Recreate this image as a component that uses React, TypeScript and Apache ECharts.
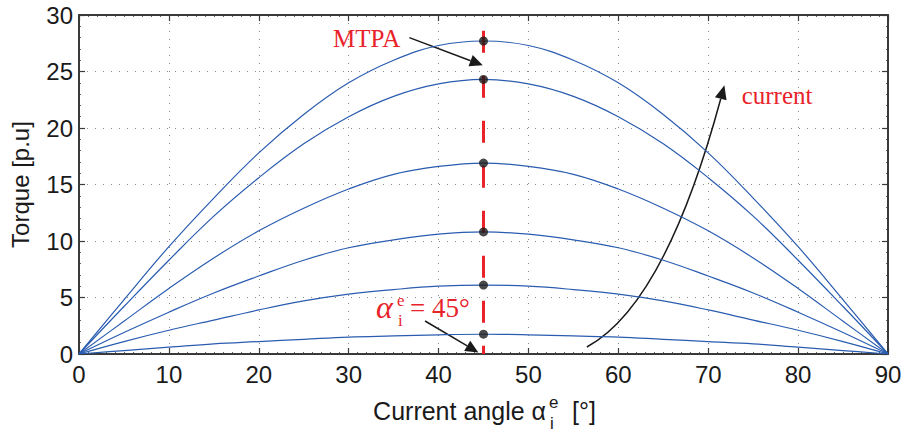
import React, { useEffect, useRef } from "react";
import * as echarts from "echarts";

// Current angle (degrees)
const angles = [0, 5, 10, 15, 20, 25, 30, 35, 40, 45, 50, 55, 60, 65, 70, 75, 80, 85, 90];
// Torque curves [p.u], highest current first
const torqueI6 = [0, 4.8, 9.5, 13.8, 17.8, 21.2, 24.0, 26.0, 27.3, 27.7, 27.3, 26.0, 24.0, 21.2, 17.8, 13.8, 9.5, 4.8, 0];
const torqueI5 = [0, 4.2, 8.3, 12.2, 15.6, 18.6, 21.0, 22.8, 23.9, 24.3, 23.9, 22.8, 21.0, 18.6, 15.6, 12.2, 8.3, 4.2, 0];
const torqueI4 = [0, 2.9, 5.8, 8.5, 10.9, 12.9, 14.6, 15.9, 16.6, 16.9, 16.6, 15.9, 14.6, 12.9, 10.9, 8.5, 5.8, 2.9, 0];
const torqueI3 = [0, 1.9, 3.7, 5.4, 6.9, 8.3, 9.4, 10.1, 10.6, 10.8, 10.6, 10.1, 9.4, 8.3, 6.9, 5.4, 3.7, 1.9, 0];
const torqueI2 = [0, 1.1, 2.1, 3.0, 3.9, 4.7, 5.3, 5.7, 6.0, 6.1, 6.0, 5.7, 5.3, 4.7, 3.9, 3.0, 2.1, 1.1, 0];
const torqueI1 = [0, 0.3, 0.6, 0.9, 1.1, 1.3, 1.5, 1.6, 1.7, 1.75, 1.7, 1.6, 1.5, 1.3, 1.1, 0.9, 0.6, 0.3, 0];
const curves = [torqueI6, torqueI5, torqueI4, torqueI3, torqueI2, torqueI1];

// MTPA
const mtpaAngle = 45;
const mtpaLineTop = 28.6;
const mtpaIndex = angles.indexOf(mtpaAngle);

// Axes
const xMin = 0, xMax = 90, xStep = 10;
const yMin = 0, yMax = 30, yStep = 5;

const BLUE = "#2a5cb0";
const RED = "#e8232a";
const INK = "#1a1a1a";
const AXIS = "#3a3a3a";
const SANS = '"Liberation Sans", Arial, sans-serif';
const SERIF = '"Liberation Serif", "Times New Roman", serif';

export default function App() {
  const ref = useRef<HTMLDivElement>(null);
  useEffect(() => {
    document.body.style.margin = "0";
    const chart = echarts.init(ref.current!, null, { renderer: "svg" });

    const axisCommon = {
      type: "value" as const,
      axisLine: { show: true, onZero: false, lineStyle: { color: AXIS, width: 2 } },
      axisTick: { show: true, inside: true, length: 6, lineStyle: { color: AXIS, width: 1.2 } },
      minorTick: { show: true, length: 2, lineStyle: { color: AXIS, width: 0.8 } },
    };
    const grid = {
      type: [1, 7],
      color: "#8a8a8a",
      width: 1,
    };

    const series: any[] = curves.map((c, i) => ({
      type: "line",
      name: "curve" + i,
      data: angles.map((a, k) => [a, c[k]]),
      smooth: 0.4,
      showSymbol: false,
      lineStyle: { color: BLUE, width: 1.2 },
      z: 2,
    }));
    series.push({
      type: "line",
      name: "MTPA line",
      data: [
        [mtpaAngle, mtpaLineTop],
        [mtpaAngle, 0],
      ],
      showSymbol: false,
      lineStyle: { color: RED, width: 3, type: [22, 23] },
      z: 3,
    });
    series.push({
      type: "scatter",
      name: "MTPA points",
      data: curves.map((c) => [mtpaAngle, c[mtpaIndex]]),
      symbolSize: 9,
      itemStyle: { color: INK },
      z: 4,
    });

    chart.setOption({
      animation: false,
      grid: { left: 79, right: 18, top: 15, bottom: 81, show: false },
      xAxis: [
        {
          ...axisCommon,
          position: "bottom",
          min: xMin,
          max: xMax,
          interval: xStep,
          minorTick: { ...axisCommon.minorTick, splitNumber: 10 },
          axisLabel: { fontSize: 24, fontFamily: SANS, color: INK, margin: 8 },
          splitLine: { show: true, lineStyle: grid },
        },
        {
          ...axisCommon,
          position: "top",
          min: xMin,
          max: xMax,
          interval: xStep,
          minorTick: { ...axisCommon.minorTick, splitNumber: 10 },
          axisLabel: { show: false },
          splitLine: { show: false },
        },
      ],
      yAxis: [
        {
          ...axisCommon,
          position: "left",
          min: yMin,
          max: yMax,
          interval: yStep,
          minorTick: { ...axisCommon.minorTick, splitNumber: 5 },
          axisLabel: { fontSize: 24, fontFamily: SANS, color: INK, margin: 6 },
          splitLine: { show: true, lineStyle: grid },
          name: "Torque [p.u]",
          nameLocation: "middle",
          nameGap: 47,
          nameTextStyle: { fontSize: 24, fontFamily: SANS, color: INK },
        },
        {
          ...axisCommon,
          position: "right",
          min: yMin,
          max: yMax,
          interval: yStep,
          minorTick: { ...axisCommon.minorTick, splitNumber: 5 },
          axisLabel: { show: false },
          splitLine: { show: false },
        },
      ],
      series,
    });

    const px = (x: number, y: number) =>
      chart.convertToPixel({ xAxisIndex: 0, yAxisIndex: 0 }, [x, y]) as number[];

    const head = (tip: number[], from: number[], len = 13, hw = 6) => {
      const dx = tip[0] - from[0];
      const dy = tip[1] - from[1];
      const d = Math.hypot(dx, dy) || 1;
      const ux = dx / d, uy = dy / d;
      const bx = tip[0] - ux * len, by = tip[1] - uy * len;
      return {
        base: [bx, by],
        points: [
          [tip[0], tip[1]],
          [bx - uy * hw, by + ux * hw],
          [bx + uy * hw, by - ux * hw],
        ],
      };
    };

    // MTPA arrow
    const mA = px(36.75, 28.0);
    const mB = px(44.92, 25.55);
    const mH = head(mB, mA);
    // alpha arrow
    const aA = px(38.5, 2.92);
    const aB = px(44.43, 0.13);
    const aH = head(aB, aA);
    // current arrow (curved)
    const cS = px(56.5, 0.62);
    const cC = px(65.2, 4.38);
    const cT = px(71.8, 23.78);
    const cH = head(cT, cC, 14, 6);

    const mtpaText = px(32.0, 27.9);
    const curText = px(77.66, 22.9);
    const alphaPos = px(33.05, 4.04);

    const graphic: any[] = [
      {
        type: "text",
        x: mtpaText[0],
        y: mtpaText[1],
        silent: true,
        style: { text: "MTPA", fill: RED, fontSize: 25, fontFamily: SERIF, align: "center", verticalAlign: "middle" },
      },
      { type: "line", silent: true, shape: { x1: mA[0], y1: mA[1], x2: mH.base[0], y2: mH.base[1] }, style: { stroke: INK, lineWidth: 1.5 } },
      { type: "polygon", silent: true, shape: { points: mH.points }, style: { fill: INK } },
      {
        type: "text",
        x: curText[0],
        y: curText[1],
        silent: true,
        style: { text: "current", fill: RED, fontSize: 25, fontFamily: SERIF, align: "center", verticalAlign: "middle" },
      },
      {
        type: "bezierCurve",
        silent: true,
        shape: { x1: cS[0], y1: cS[1], cpx1: cC[0], cpy1: cC[1], x2: cH.base[0], y2: cH.base[1] },
        style: { stroke: INK, lineWidth: 1.5, fill: "none" },
      },
      { type: "polygon", silent: true, shape: { points: cH.points }, style: { fill: INK } },
      { type: "line", silent: true, shape: { x1: aA[0], y1: aA[1], x2: aH.base[0], y2: aH.base[1] }, style: { stroke: INK, lineWidth: 1.5 } },
      { type: "polygon", silent: true, shape: { points: aH.points }, style: { fill: INK } },
      // alpha_i^e = 45°
      {
        type: "text",
        x: alphaPos[0],
        y: alphaPos[1] - 1,
        silent: true,
        style: { text: "α", fill: RED, fontSize: 32, fontStyle: "italic", fontFamily: SERIF, align: "left", verticalAlign: "middle" },
      },
      {
        type: "text",
        x: alphaPos[0] + 21,
        y: alphaPos[1] - 8,
        silent: true,
        style: { text: "e", fill: RED, fontSize: 17, fontFamily: SERIF, align: "left", verticalAlign: "middle" },
      },
      {
        type: "text",
        x: alphaPos[0] + 22,
        y: alphaPos[1] + 12,
        silent: true,
        style: { text: "i", fill: RED, fontSize: 17, fontFamily: SERIF, align: "left", verticalAlign: "middle" },
      },
      {
        type: "text",
        x: alphaPos[0] + 34,
        y: alphaPos[1],
        silent: true,
        style: { text: "= 45°", fill: RED, fontSize: 27, fontFamily: SERIF, align: "left", verticalAlign: "middle" },
      },
      // x-axis title: Current angle α_i^e [°]
      {
        type: "text",
        x: 546,
        y: 411,
        silent: true,
        style: { text: "Current angle α", fill: INK, fontSize: 25, fontFamily: SANS, align: "right", verticalAlign: "middle" },
      },
      {
        type: "text",
        x: 549,
        y: 402,
        silent: true,
        style: { text: "e", fill: INK, fontSize: 17, fontFamily: SANS, align: "left", verticalAlign: "middle" },
      },
      {
        type: "text",
        x: 550,
        y: 423,
        silent: true,
        style: { text: "i", fill: INK, fontSize: 17, fontFamily: SANS, align: "left", verticalAlign: "middle" },
      },
      {
        type: "text",
        x: 572,
        y: 411,
        silent: true,
        style: { text: "[°]", fill: INK, fontSize: 25, fontFamily: SANS, align: "left", verticalAlign: "middle" },
      },
    ];
    chart.setOption({ graphic });

    return () => chart.dispose();
  }, []);
  return <div ref={ref} style={{ width: 906, height: 435 }} />;
}
